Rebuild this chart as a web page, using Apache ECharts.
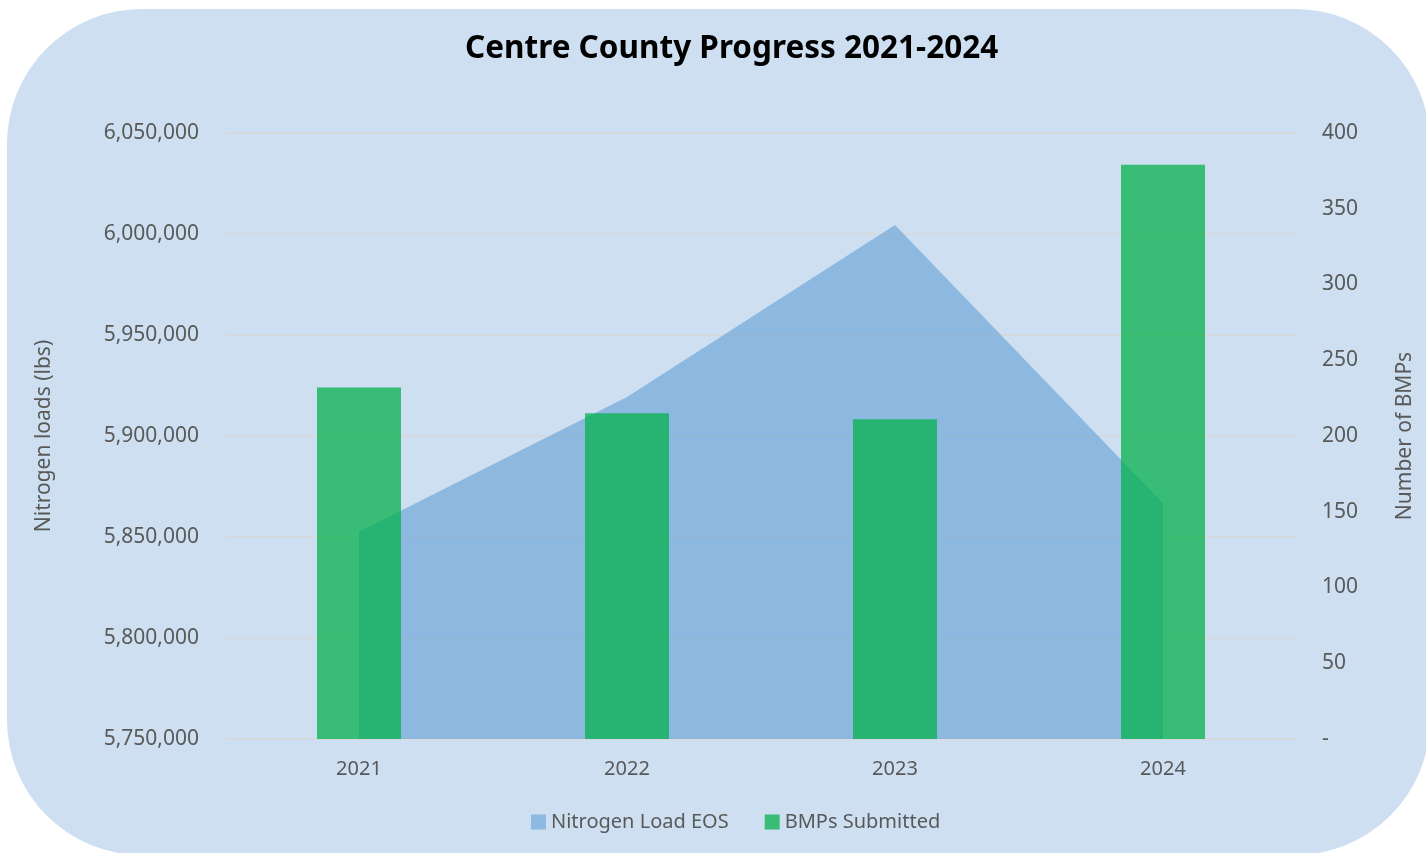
<!DOCTYPE html>
<html>
<head>
<meta charset="utf-8">
<script src="https://cdn.jsdelivr.net/npm/echarts@6/dist/echarts.min.js"></script>
<style>
html,body{margin:0;padding:0;background:#ffffff;}
#chart{width:1426px;height:853px;}
</style>
</head>
<body>
<div id="chart"></div>
<script>
const years = ['2021', '2022', '2023', '2024'];
const nitrogenLoad = [5852600, 5919300, 6004400, 5866700];
const bmpsSubmitted = [232, 215, 211, 379];
const leftTicks = {min: 5750000, max: 6050000, interval: 50000};
const rightTicks = {min: 0, max: 400, interval: 50};

const chart = echarts.init(document.getElementById('chart'));
const txt = '#595959';
const fontFam = '"Noto Sans", "Open Sans", sans-serif';
chart.setOption({
  backgroundColor: 'transparent',
  graphic: [{
    type: 'rect', z: -10, silent: true,
    shape: {x: 7, y: 9, width: 1423, height: 846, r: 135},
    style: {fill: '#cddff0'}
  }],
  title: {
    text: 'Centre County Progress 2021-2024',
    left: 460, top: 28,
    textStyle: {fontSize: 31.5, fontWeight: 'bold', color: '#000000', fontFamily: fontFam}
  },
  legend: {
    bottom: 16, left: 526,
    itemWidth: 15, itemHeight: 15, itemGap: 36,
    icon: 'rect',
    textStyle: {fontSize: 20, color: txt, fontFamily: fontFam},
    data: ['Nitrogen Load EOS', 'BMPs Submitted']
  },
  grid: {left: 225, right: 129, top: 133, bottom: 114},
  xAxis: {
    type: 'category', data: years, boundaryGap: true,
    axisLine: {show: false}, axisTick: {show: false},
    axisLabel: {fontSize: 20, color: txt, margin: 20, fontFamily: fontFam}
  },
  yAxis: [{
    type: 'value', min: leftTicks.min, max: leftTicks.max, interval: leftTicks.interval,
    name: 'Nitrogen loads (lbs)', nameLocation: 'middle', nameGap: 170, nameRotate: 90,
    nameTextStyle: {fontSize: 21, color: txt, fontFamily: fontFam},
    axisLine: {show: false}, axisTick: {show: false},
    splitLine: {show: true, lineStyle: {color: '#d9d9d9', width: 1.5}},
    axisLabel: {fontSize: 21, color: txt, margin: 26, fontFamily: fontFam,
      formatter: v => v.toLocaleString('en-US')}
  }, {
    type: 'value', min: rightTicks.min, max: rightTicks.max, interval: rightTicks.interval,
    name: 'Number of BMPs', nameLocation: 'middle', nameGap: 98, nameRotate: 90,
    nameTextStyle: {fontSize: 21, color: txt, fontFamily: fontFam},
    axisLine: {show: false}, axisTick: {show: false},
    splitLine: {show: false},
    axisLabel: {fontSize: 21, color: txt, margin: 25, fontFamily: fontFam,
      formatter: v => v === 0 ? '-' : String(v)}
  }],
  series: [{
    name: 'Nitrogen Load EOS', type: 'line', yAxisIndex: 0, z: 2,
    data: nitrogenLoad, symbol: 'none',
    lineStyle: {width: 0},
    itemStyle: {color: '#8db9e2'},
    areaStyle: {color: 'rgba(91,155,213,0.56)', opacity: 1}
  }, {
    name: 'BMPs Submitted', type: 'bar', yAxisIndex: 1, z: 5,
    data: bmpsSubmitted, barWidth: 84,
    itemStyle: {color: 'rgba(0,176,70,0.72)'}
  }]
});
</script>
</body>
</html>
